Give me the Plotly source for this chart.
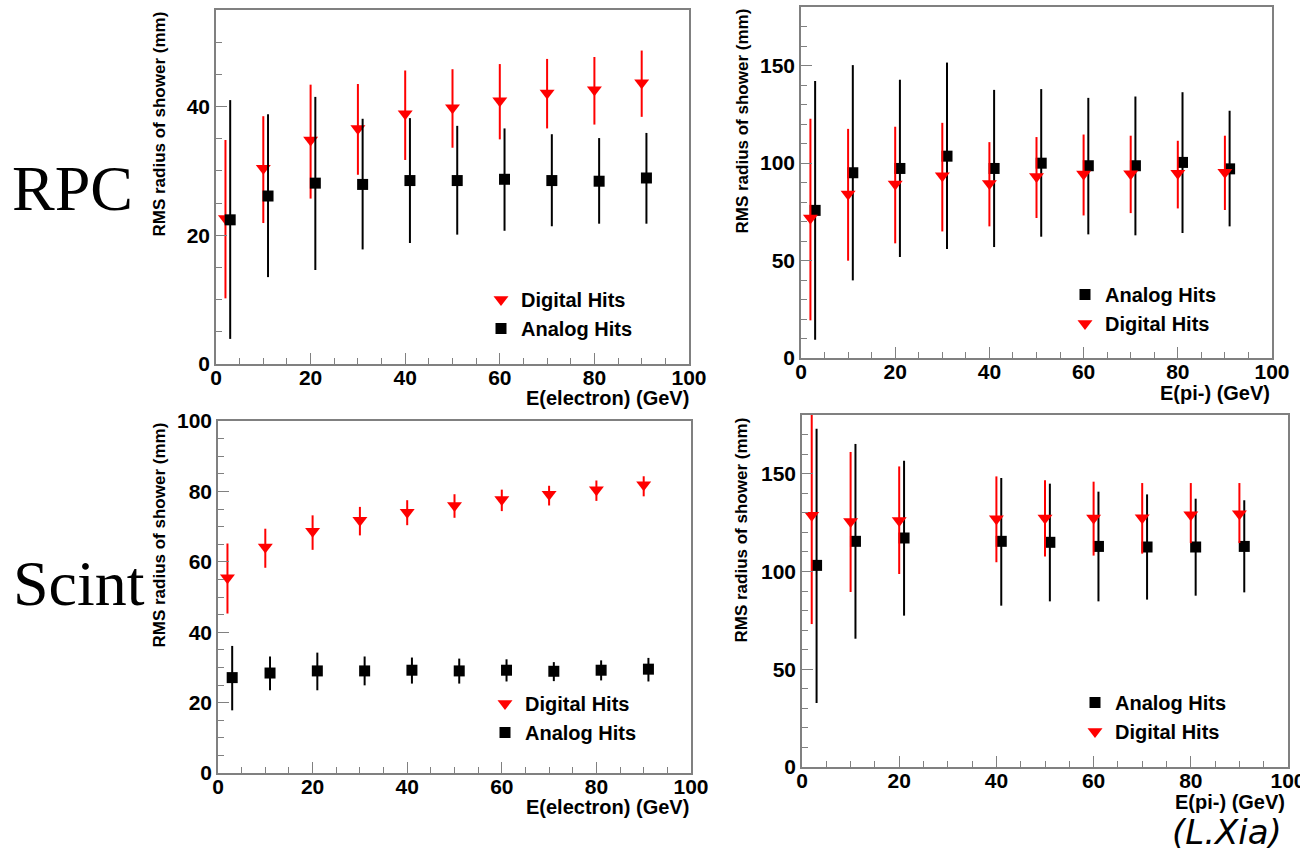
import plotly.graph_objects as go

# ---------------- data ----------------
E_DIG = [2, 10, 20, 30, 40, 50, 60, 70, 80, 90]
E_ANA = [3, 11, 21, 31, 41, 51, 61, 71, 81, 91]
E_DIG_SCPI = [2, 10, 20, 40, 50, 60, 70, 80, 90]
E_ANA_SCPI = [3, 11, 21, 41, 51, 61, 71, 81, 91]

# RPC, electrons
RPC_E_DIG = [22.6, 30.4, 34.8, 36.6, 38.9, 39.8, 40.9, 42.1, 42.6, 43.7]
RPC_E_DIG_HI = [34.8, 38.5, 43.4, 43.5, 45.6, 45.8, 46.6, 47.4, 47.7, 48.7]
RPC_E_DIG_LO = [10.2, 21.9, 25.7, 29.4, 31.7, 33.6, 34.9, 36.6, 37.2, 38.4]
RPC_E_ANA = [22.4, 26.1, 28.1, 27.9, 28.5, 28.5, 28.7, 28.5, 28.4, 28.9]
RPC_E_ANA_HI = [41.0, 38.8, 41.5, 38.1, 38.2, 37.0, 36.6, 35.7, 35.1, 35.9]
RPC_E_ANA_LO = [3.9, 13.5, 14.6, 17.8, 18.8, 20.1, 20.7, 21.4, 21.8, 21.8]

# RPC, pions
RPC_PI_ANA = [75.7, 95.0, 97.2, 103.5, 97.2, 99.9, 98.6, 98.6, 100.3, 97.0]
RPC_PI_ANA_HI = [142.1, 150.2, 142.7, 151.5, 137.5, 137.9, 133.4, 134.1, 136.3, 126.8]
RPC_PI_ANA_LO = [9.4, 39.8, 51.8, 55.9, 56.9, 62.2, 63.4, 62.9, 64.1, 67.5]
RPC_PI_DIG = [71.8, 84.1, 89.2, 93.5, 89.5, 93.1, 94.3, 94.5, 94.7, 95.3]
RPC_PI_DIG_HI = [122.7, 117.5, 118.6, 120.6, 110.7, 113.3, 114.6, 114.0, 111.4, 114.0]
RPC_PI_DIG_LO = [19.3, 49.9, 58.8, 64.9, 67.5, 71.8, 73.1, 74.3, 76.7, 75.9]

# Scint, electrons
SC_E_DIG = [55.5, 64.2, 68.7, 71.8, 74.1, 76.0, 77.7, 79.2, 80.5, 81.9]
SC_E_DIG_HI = [65.2, 69.4, 73.2, 75.6, 77.5, 79.2, 80.5, 81.6, 83.1, 84.3]
SC_E_DIG_LO = [45.3, 58.3, 63.4, 67.5, 70.4, 72.5, 74.4, 76.0, 77.3, 78.6]
SC_E_ANA = [27.1, 28.4, 29.0, 29.0, 29.2, 29.0, 29.2, 28.9, 29.2, 29.5]
SC_E_ANA_HI = [36.1, 33.1, 34.2, 33.1, 32.8, 32.5, 32.3, 31.5, 32.0, 32.7]
SC_E_ANA_LO = [17.8, 23.5, 23.5, 24.9, 25.4, 25.4, 26.0, 26.1, 26.3, 26.0]

# Scint, pions
SC_PI_ANA = [103.1, 115.4, 117.1, 115.4, 114.9, 112.8, 112.5, 112.5, 112.8]
SC_PI_ANA_HI = [173.0, 165.2, 156.6, 147.8, 144.9, 140.8, 139.4, 137.2, 136.4]
SC_PI_ANA_LO = [32.7, 65.6, 77.4, 82.5, 84.7, 84.7, 85.6, 87.6, 89.3]
SC_PI_DIG = [128.7, 125.6, 126.1, 127.0, 127.3, 127.3, 127.5, 129.0, 129.5]
SC_PI_DIG_HI = [184.0, 161.1, 153.7, 148.6, 146.6, 145.9, 145.2, 145.2, 145.2]
SC_PI_DIG_LO = [73.1, 89.5, 98.7, 104.7, 107.7, 108.1, 109.1, 114.5, 114.5]

X_TICKS = [0, 20, 40, 60, 80, 100]

# ---------------- figure ----------------
W, H = 1300, 848
RED = "#ff0000"
BLACK = "#000000"
FRAME = "#808080"
FONT = "Liberation Sans"

fig = go.Figure()


def px_x(p):
    return p / W


def px_y(p):
    return 1 - p / H


def add_series(x, y, hi, lo, kind, xa, ya, leg):
    up = [h - v for h, v in zip(hi, y)]
    dn = [v - l for v, l in zip(y, lo)]
    if kind == "dig":
        name, color, sym, size = "Digital Hits", RED, "triangle-down", 13
    else:
        name, color, sym, size = "Analog Hits", BLACK, "square", 11
    fig.add_trace(go.Scatter(
        x=x, y=y, mode="markers", name=name,
        marker=dict(symbol=sym, size=size, color=color, line=dict(width=0)),
        error_y=dict(type="data", array=up, arrayminus=dn, symmetric=False,
                     color=color, thickness=2, width=0),
        xaxis=xa, yaxis=ya, legend=leg, showlegend=True,
    ))


# panel 1: RPC electrons (Digital listed first)
add_series(E_DIG, RPC_E_DIG, RPC_E_DIG_HI, RPC_E_DIG_LO, "dig", "x", "y", "legend")
add_series(E_ANA, RPC_E_ANA, RPC_E_ANA_HI, RPC_E_ANA_LO, "ana", "x", "y", "legend")
# panel 2: RPC pions (Analog listed first)
add_series(E_ANA, RPC_PI_ANA, RPC_PI_ANA_HI, RPC_PI_ANA_LO, "ana", "x2", "y2", "legend2")
add_series(E_DIG, RPC_PI_DIG, RPC_PI_DIG_HI, RPC_PI_DIG_LO, "dig", "x2", "y2", "legend2")
# panel 3: Scint electrons
add_series(E_DIG, SC_E_DIG, SC_E_DIG_HI, SC_E_DIG_LO, "dig", "x3", "y3", "legend3")
add_series(E_ANA, SC_E_ANA, SC_E_ANA_HI, SC_E_ANA_LO, "ana", "x3", "y3", "legend3")
# panel 4: Scint pions
add_series(E_ANA_SCPI, SC_PI_ANA, SC_PI_ANA_HI, SC_PI_ANA_LO, "ana", "x4", "y4", "legend4")
add_series(E_DIG_SCPI, SC_PI_DIG, SC_PI_DIG_HI, SC_PI_DIG_LO, "dig", "x4", "y4", "legend4")

tickfont = dict(family=FONT, size=21, color="black", weight="bold")


def xaxis(dom, anchor):
    return dict(domain=dom, anchor=anchor, range=[0, 100], tickvals=X_TICKS,
                ticks="inside", ticklen=11, tickwidth=1, tickcolor=FRAME,
                minor=dict(ticks="inside", dtick=5, tick0=0, ticklen=6, tickcolor=FRAME),
                showline=True, linecolor=FRAME, linewidth=1.5, mirror=True,
                showgrid=False, zeroline=False, tickfont=tickfont, fixedrange=True,
                automargin=False, ticklabeloverflow="allow", ticklabelstandoff=-6)


def yaxis(dom, anchor, top, major, minor):
    return dict(domain=dom, anchor=anchor, range=[0, top], dtick=major, tick0=0,
                ticks="inside", ticklen=11, tickwidth=1, tickcolor=FRAME,
                minor=dict(ticks="inside", dtick=minor, tick0=0, ticklen=6, tickcolor=FRAME),
                showline=True, linecolor=FRAME, linewidth=1.5, mirror=True,
                showgrid=False, zeroline=False, tickfont=tickfont, fixedrange=True,
                automargin=False)


P1 = dict(x=(216, 689), y=(364, 10))
P2 = dict(x=(801, 1272), y=(358, 7))
P3 = dict(x=(218, 691), y=(773, 421))
P4 = dict(x=(802, 1288), y=(767, 415))


def xd(p):
    return [px_x(p["x"][0]), px_x(p["x"][1])]


def yd(p):
    return [px_y(p["y"][0]), px_y(p["y"][1])]


legfont = dict(family=FONT, size=20, color="black", weight="bold")


def legend(xp, yp):
    return dict(x=px_x(xp), y=px_y(yp), xanchor="left", yanchor="top",
                bgcolor="rgba(0,0,0,0)", borderwidth=0, font=legfont,
                traceorder="normal", itemclick=False, itemdoubleclick=False)


fig.update_layout(
    width=W, height=H, autosize=False,
    margin=dict(l=0, r=0, t=0, b=0, pad=0),
    paper_bgcolor="white", plot_bgcolor="white",
    xaxis=xaxis(xd(P1), "y"), yaxis=yaxis(yd(P1), "x", 55, 20, 5),
    xaxis2=xaxis(xd(P2), "y2"), yaxis2=yaxis(yd(P2), "x2", 180, 50, 10),
    xaxis3=xaxis(xd(P3), "y3"), yaxis3=yaxis(yd(P3), "x3", 100, 20, 5),
    xaxis4=xaxis(xd(P4), "y4"), yaxis4=yaxis(yd(P4), "x4", 180, 50, 10),
    legend=legend(481, 280),
    legend2=legend(1065, 275),
    legend3=legend(485, 684),
    legend4=legend(1075, 683),
)

ytitle = "RMS radius of shower (mm)"
titlefont = dict(family=FONT, size=17, color="black", weight="bold")
xtfont = dict(family=FONT, size=20, color="black", weight="bold")

ann = []
for xc, ytop in [(159, 10), (742, 7), (159, 421), (741, 415)]:
    ann.append(dict(text=ytitle, textangle=-90, x=px_x(xc), y=px_y(ytop),
                    xref="paper", yref="paper", xanchor="center", yanchor="top",
                    showarrow=False, font=titlefont))
for txt, xr, yc in [("E(electron) (GeV)", 691, 398), ("E(pi-) (GeV)", 1272, 393),
                    ("E(electron) (GeV)", 691, 807), ("E(pi-) (GeV)", 1287, 802)]:
    ann.append(dict(text=txt, x=px_x(xr), y=px_y(yc), xref="paper", yref="paper",
                    xanchor="right", yanchor="middle", showarrow=False, font=xtfont))

ann.append(dict(text="RPC", x=px_x(72), y=px_y(188), xref="paper", yref="paper",
                xanchor="center", yanchor="middle", showarrow=False,
                font=dict(family="Liberation Serif", size=64, color="black")))
ann.append(dict(text="Scint", x=px_x(79), y=px_y(583), xref="paper", yref="paper",
                xanchor="center", yanchor="middle", showarrow=False,
                font=dict(family="Liberation Serif", size=64, color="black")))
ann.append(dict(text="<i>(L.Xia)</i>", x=px_x(1227), y=px_y(832), xref="paper", yref="paper",
                xanchor="center", yanchor="middle", showarrow=False,
                font=dict(family="DejaVu Sans", size=34, color="black")))

fig.update_layout(annotations=ann)

fig.write_html("out.html")
